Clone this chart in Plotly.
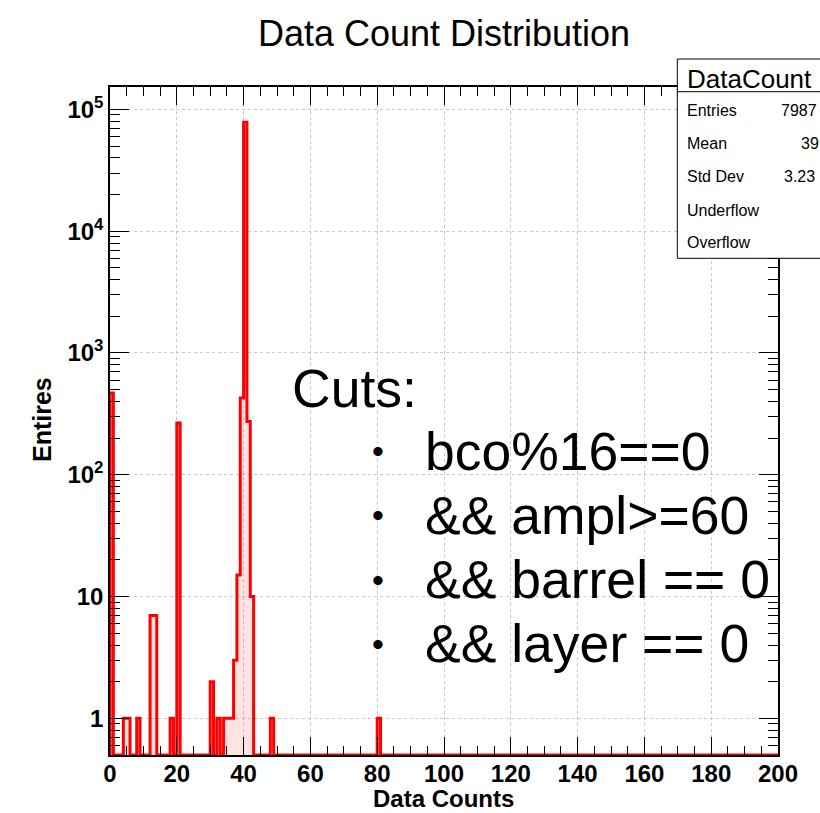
import numpy as np
import plotly.graph_objects as go

# ---- histogram: 200 unit-width bins on [0, 200) ----
x_min, x_max, n_bins = 0, 200, 200
filled_bins = [0, 4, 5, 8, 12, 13, 18, 20, 30, 32, 34, 35, 36, 37, 38, 39, 40, 41, 42, 48, 80]
bin_contents = [470, 1, 1, 1, 7, 7, 1, 266, 2, 1, 1, 1, 1, 3, 15, 427, 78380, 274, 10, 1, 1]

x_ticks = list(range(0, 201, 20))
y_tickvals = [1, 10, 100, 1000, 10000, 100000]
y_ticktext = ["1", "10", "10<sup>2</sup>", "10<sup>3</sup>", "10<sup>4</sup>", "10<sup>5</sup>"]

stat_title = "DataCount"
stat_names = ["Entries", "Mean", "Std Dev", "Underflow", "Overflow"]
stat_values = ["7987", "39", "3.23", "", ""]

cut_title = "Cuts:"
cut_lines = ["bco%16==0", "&& ampl>=60", "&& barrel == 0", "&& layer == 0"]

# ---- build step outline ----
counts = np.zeros(n_bins)
counts[filled_bins] = bin_contents
edges = np.linspace(x_min, x_max, n_bins + 1)
y_lo, y_hi = np.log10(0.5), 5.184
y_floor = 10 ** y_lo
vals = np.where(counts > 0, counts, y_floor)
xs = np.concatenate([[edges[0]], np.repeat(edges, 2)[1:-1], [edges[-1]]])
ys = np.concatenate([[y_floor], np.repeat(vals, 2), [y_floor]])

FONT = "Liberation Sans, Arial, Helvetica, sans-serif"
W, H = 820, 813
L, R, T, B = 110, 778, 87, 755


def px(x):
    return (x - L) / (R - L)


def py(y):
    return (B - y) / (B - T)


fig = go.Figure()
fig.add_trace(go.Scatter(
    x=xs, y=ys, mode="lines", fill="toself",
    fillcolor="rgba(255,0,0,0.11)",
    line=dict(color="#ff0000", width=3),
    hoverinfo="skip", showlegend=False,
))

minor_y = [k * 10 ** e for e in range(-1, 6) for k in range(2, 10)
           if y_lo < np.log10(k * 10 ** e) < y_hi]

axis_common = dict(
    ticks="inside", tickcolor="black", tickwidth=1.3,
    showline=True, linecolor="black", linewidth=1.5, mirror="ticks",
    showgrid=True, gridcolor="#c8c8c8", griddash="dot", gridwidth=1,
    zeroline=False,
    tickfont=dict(family=FONT, size=24, color="black", weight="bold"),
)

fig.update_xaxes(
    range=[x_min, x_max], tickmode="array", tickvals=x_ticks, ticklen=18,
    ticklabelstandoff=-4,
    minor=dict(dtick=5, tick0=0, ticks="inside", ticklen=9, tickwidth=1.3,
               tickcolor="black", showgrid=False),
    **axis_common,
)
fig.update_yaxes(
    type="log", range=[y_lo, y_hi], tickmode="array",
    tickvals=y_tickvals, ticktext=y_ticktext, ticklen=19,
    minor=dict(tickmode="array", tickvals=minor_y, ticks="inside", ticklen=10,
               tickwidth=1.3, tickcolor="black", showgrid=False),
    **axis_common,
)

ann = []
# axis titles
ann.append(dict(text="Data Counts", x=px(443), y=py(798), xanchor="center", yanchor="middle",
                font=dict(family=FONT, size=24, color="black", weight="bold")))
ann.append(dict(text="Entires", x=px(42), y=py(420), xanchor="center", yanchor="middle",
                textangle=-90, font=dict(family=FONT, size=25, color="black", weight="bold")))

# cuts text block
big = 53.5
ann.append(dict(text=cut_title, x=px(290), y=py(389), xanchor="left", yanchor="middle",
                font=dict(family=FONT, size=big, color="black")))
for i, line in enumerate(cut_lines):
    yc = 451 + i * 64.3
    ann.append(dict(text="\u2022", x=px(377.5), y=py(yc), xanchor="center", yanchor="middle",
                    font=dict(family=FONT, size=34, color="black")))
    ann.append(dict(text=line, x=px(423), y=py(yc), xanchor="left", yanchor="middle",
                    font=dict(family=FONT, size=big, color="black")))

# statistics box
box_l, box_r, box_t, box_b, box_sep = 677.3, 840, 59, 258.3, 91.7
shapes = [
    dict(type="rect", xref="paper", yref="paper", x0=px(box_l), x1=px(box_r),
         y0=py(box_b), y1=py(box_t), line=dict(color="black", width=1),
         fillcolor="white", layer="above"),
    dict(type="line", xref="paper", yref="paper", x0=px(box_l), x1=px(box_r),
         y0=py(box_sep), y1=py(box_sep), line=dict(color="black", width=1), layer="above"),
]
ann.append(dict(text=stat_title, x=px(685), y=py(79), xanchor="left", yanchor="middle",
                font=dict(family=FONT, size=26, color="black")))
row_y = [110.7, 143.3, 176, 210.7, 242.7]
val_x = [779, 799, 781.5, 800, 800]
for name, val, yy, vx in zip(stat_names, stat_values, row_y, val_x):
    ann.append(dict(text=name, x=px(685), y=py(yy), xanchor="left", yanchor="middle",
                    font=dict(family=FONT, size=16, color="black")))
    if val:
        ann.append(dict(text=val, x=px(vx), y=py(yy), xanchor="left", yanchor="middle",
                        font=dict(family=FONT, size=16, color="black")))

for a in ann:
    a.update(xref="paper", yref="paper", showarrow=False)

fig.update_layout(
    width=W, height=H,
    margin=dict(l=L, r=W - R, t=T, b=H - B, pad=0),
    paper_bgcolor="white", plot_bgcolor="white",
    title=dict(text="Data Count Distribution", x=0.5, xref="paper", xanchor="center",
               y=1 - 33 / H, yref="container", yanchor="middle",
               font=dict(family=FONT, size=36, color="black")),
    annotations=ann, shapes=shapes, showlegend=False,
)

fig.write_html("out.html")
